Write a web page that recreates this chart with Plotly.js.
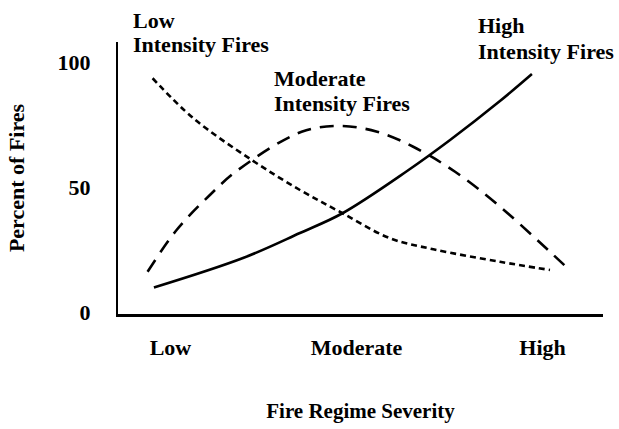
<!DOCTYPE html>
<html>
<head>
<meta charset="utf-8">
<script src="https://cdn.plot.ly/plotly-3.0.1.min.js"></script>
<style>html,body{margin:0;padding:0;background:#fff;}#chart{width:619px;height:429px;}</style>
</head>
<body>
<div id="chart"></div>
<script>
// Severity axis: 1 = Low, 2 = Moderate, 3 = High
const severityTicks = [1, 2, 3];
const severityLabels = ["Low", "Moderate", "High"];
const percentTicks = [0, 50, 100];

const lowX = [0.904, 1.123, 1.437, 1.696, 1.920, 2.180, 2.413, 2.771, 3.040];
const lowY = [93.5, 77.5, 60.8, 48.8, 39.7, 29.5, 25.1, 20.1, 16.8];

const modX = [0.877, 1.033, 1.212, 1.363, 1.705, 1.911, 2.111, 2.305, 2.530, 2.761, 3.040, 3.139];
const modY = [16.1, 32.8, 46.8, 56.8, 72.1, 74.4, 72.1, 66.1, 56.1, 42.8, 24.1, 17.2];

const highX = [0.911, 1.390, 1.696, 1.922, 2.272, 2.503, 2.771, 2.943];
const highY = [9.8, 21.6, 31.6, 39.4, 56.4, 68.8, 84.4, 95.2];

const FONT = "Liberation Serif, Times New Roman, serif";

const traces = [
  {x: lowX, y: lowY, mode: "lines", name: "Low Intensity Fires",
   line: {color: "#000", width: 2.6, dash: "6px,4px", shape: "spline", smoothing: 1}},
  {x: modX, y: modY, mode: "lines", name: "Moderate Intensity Fires",
   line: {color: "#000", width: 2.6, dash: "14px,9px", shape: "spline", smoothing: 1}},
  {x: highX, y: highY, mode: "lines", name: "High Intensity Fires",
   line: {color: "#000", width: 2.6, shape: "spline", smoothing: 1}}
];

const W = 619, H = 429, L = 118, R = 16, T = 42, B = 115;
const pw = W - L - R, ph = H - T - B;
function px(x) { return (x - L) / pw; }
function py(y) { return (H - B - y) / ph; }

function ann(text, x, y) {
  return {text: text, xref: "paper", yref: "paper", x: px(x), y: py(y),
          xanchor: "left", yanchor: "middle", showarrow: false, align: "left",
          font: {family: FONT, size: 22, color: "#000", weight: "bold"}};
}

const layout = {
  width: W, height: H,
  margin: {l: L, r: R, t: T, b: B},
  paper_bgcolor: "#fff", plot_bgcolor: "#fff",
  showlegend: false,
  font: {family: FONT, color: "#000"},
  xaxis: {
    range: [0.718, 3.325], tickmode: "array", tickvals: severityTicks, ticktext: severityLabels,
    showgrid: false, zeroline: false, showline: true, linecolor: "#000", linewidth: 2.5,
    ticks: "outside", ticklen: 12, tickcolor: "rgba(0,0,0,0)",
    tickfont: {family: FONT, size: 22, color: "#000", weight: "bold"},
    title: {text: "Fire Regime Severity", standoff: 45,
            font: {family: FONT, size: 21, color: "#000", weight: "bold"}}
  },
  yaxis: {
    range: [-0.8, 108], tickmode: "array", tickvals: percentTicks,
    showgrid: false, zeroline: false, showline: true, linecolor: "#000", linewidth: 2,
    ticks: "outside", ticklen: 21, tickcolor: "rgba(0,0,0,0)",
    tickfont: {family: FONT, size: 22, color: "#000", weight: "bold"},
    title: {text: "Percent of Fires", standoff: 27,
            font: {family: FONT, size: 22, color: "#000", weight: "bold"}}
  },
  annotations: [
    ann("Low", 131, 20),
    ann("Intensity Fires", 131, 45),
    ann("Moderate", 272, 78),
    ann("Intensity Fires", 272, 103),
    ann("High", 476, 26),
    ann("Intensity Fires", 476, 52)
  ]
};

Plotly.newPlot("chart", traces, layout, {staticPlot: true, displayModeBar: false});
</script>
</body>
</html>
